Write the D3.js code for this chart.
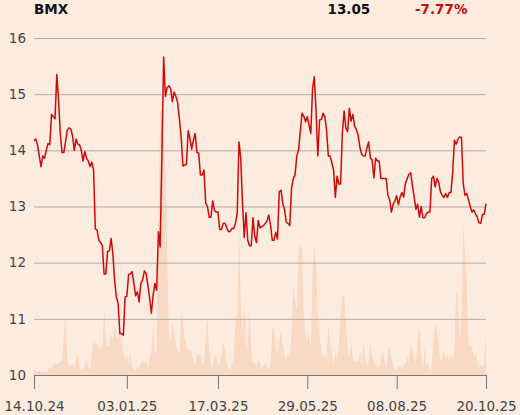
<!DOCTYPE html>
<html><head><meta charset="utf-8">
<script src="https://cdn.jsdelivr.net/npm/d3@7"></script>
<style>
html,body{margin:0;padding:0;background:#fcece0;}
svg{display:block;font-family:"DejaVu Sans",sans-serif;}
</style></head>
<body><div id="chart"></div>
<script>
const ticker = "BMX";
const lastPrice = "13.05";
const changePct = "-7.77%";

const prices = [14.17,14.20,14.10,13.90,13.71,13.90,13.86,14.00,14.12,14.10,14.64,
14.60,14.56,15.35,14.90,14.30,13.96,13.96,14.15,14.36,14.40,
14.38,14.26,14.00,14.20,14.11,14.10,14.00,13.81,13.98,13.86,
13.81,13.71,13.79,13.65,12.60,12.58,12.40,12.36,12.30,11.80,
11.80,12.20,12.21,12.43,12.17,11.69,11.39,11.28,10.74,10.74,
10.71,11.39,11.40,11.79,11.80,11.84,11.63,11.41,11.48,11.30,
11.63,11.69,11.85,11.81,11.60,11.37,11.10,11.42,11.63,11.51,
12.55,12.28,13.89,15.66,14.96,15.12,15.15,15.10,14.87,15.04,
14.96,14.85,14.55,
14.24,13.72,13.74,13.75,14.35,14.21,14.02,14.18,
14.30,13.96,13.95,13.56,13.56,13.65,13.06,13.00,12.81,12.81,
13.10,12.93,12.90,12.90,12.59,12.59,12.70,12.70,12.62,
12.55,12.56,
12.61,12.61,12.70,12.88,14.15,13.86,13.06,12.45,12.89,12.40,
12.30,12.30,12.80,12.47,12.36,12.75,12.62,12.64,12.66,12.70,
12.74,12.85,12.67,12.40,12.40,12.54,12.42,13.26,13.29,13.05,
12.95,12.72,12.70,12.66,13.32,13.50,13.56,13.90,14.00,14.33,
14.66,14.61,14.51,14.60,14.45,14.30,15.10,15.31,14.69,13.90,14.54,
14.55,14.66,14.60,14.36,13.90,13.90,13.78,13.65,13.16,13.54,
13.40,13.40,14.30,14.70,14.40,14.33,14.75,14.52,14.64,14.43,
14.37,14.27,14.06,13.93,13.90,13.90,14.04,14.15,13.86,13.83,
13.51,13.86,13.81,13.81,13.50,13.50,13.50,13.50,13.20,13.12,
12.90,13.04,13.10,13.19,13.03,13.17,13.25,13.17,13.41,
13.50,13.57,13.60,13.37,13.17,
12.95,13.04,12.81,13.00,12.80,12.80,
12.87,12.90,12.90,13.50,13.54,13.35,13.50,
13.43,13.26,13.20,13.16,13.23,13.16,13.25,13.25,13.62,14.18,
14.11,14.20,14.24,14.23,13.41,13.20,13.23,13.12,13.00,12.90,
12.94,12.87,12.81,12.71,12.70,12.86,
12.86,13.05];

// volume (thousands of shares)
const volumes = [4,5,3,4,3,3,4,3,5,8,
6,10,12,11,12,13,14,40,62,15,
10,9,11,8,15,22,8,5,6,10,
16,8,5,20,35,30,32,25,30,25,
67,35,28,30,42,35,50,40,35,50,
35,25,15,20,12,22,8,5,5,7,
7,12,15,12,14,8,18,22,53,20,
25,150,265,265,240,200,118,40,30,52,
45,30,25,20,62,55,35,30,25,25,
22,15,8,22,20,18,12,10,40,57,
25,10,6,20,18,12,8,18,33,25,
12,6,5,12,15,53,60,150,75,38,
72,40,25,68,25,12,13,8,15,12,
6,10,12,8,5,10,45,50,25,20,
35,45,30,20,15,22,18,40,90,75,
65,125,130,125,60,40,35,42,25,100,
132,110,60,40,25,18,20,15,52,32,
22,10,23,15,28,60,78,80,55,25,
18,35,17,13,15,12,25,8,33,17,
10,12,32,18,15,10,7,8,12,25,
15,8,25,27,18,10,5,5,8,10,
5,10,12,18,13,32,25,18,12,35,
47,25,5,30,8,13,3,10,32,52,
45,32,13,18,25,15,20,13,22,12,
25,85,75,35,60,153,120,93,30,30,
28,18,22,13,8,10,7,12,42];

const xTickIndex = [0, 53, 105, 156, 207, 258];
const xTickLabels = ["14.10.24","03.01.25","17.03.25","29.05.25","08.08.25","20.10.25"];
const yTicks = [10, 11, 12, 13, 14, 15, 16];

const W = 520, H = 415;
const L = 34, R = 486, T = 38, B = 375;

const svg = d3.select("#chart").append("svg").attr("width", W).attr("height", H);
svg.append("rect").attr("width", W).attr("height", H).attr("fill", "#fcece0");

const x = d3.scaleLinear().domain([0, prices.length - 1]).range([L, R]);
const y = d3.scaleLinear().domain([10, 16]).range([B, T]);
const v = d3.scaleLinear().domain([0, 337]).range([B, T]);

// volume area
svg.append("path")
  .datum(volumes)
  .attr("fill", "#f8d9c3")
  .attr("d", d3.area().x((d, i) => x(i)).y0(B).y1(d => v(d)));

// y grid + labels
const gy = svg.append("g").attr("transform", `translate(${L},0)`)
  .call(d3.axisLeft(y).tickValues(yTicks).tickSize(-(R - L)).tickPadding(8).tickFormat(d3.format("d")));
gy.select(".domain").remove();
gy.selectAll(".tick line").attr("stroke", "#b2aca6").attr("stroke-width", 1);
gy.selectAll(".tick text").attr("fill", "#444").style("font-size", "13.5px").style("font-family", "DejaVu Sans");

// price line
svg.append("path")
  .datum(prices)
  .attr("fill", "none")
  .attr("stroke", "#cc0a0a")
  .attr("stroke-width", 1.5)
  .attr("stroke-linejoin", "round")
  .attr("d", d3.line().x((d, i) => x(i)).y(d => y(d)));

// x axis
const gx = svg.append("g").attr("transform", `translate(0,${B})`)
  .call(d3.axisBottom(x).tickValues(xTickIndex).tickSize(14).tickPadding(12)
    .tickFormat((d, i) => xTickLabels[i]));
gx.select(".domain").attr("stroke", "#777").attr("stroke-width", 1);
gx.selectAll(".tick line").attr("stroke", "#777");
gx.selectAll(".tick text").attr("fill", "#444").style("font-size", "13.5px").style("font-family", "DejaVu Sans");

// header
svg.append("text").attr("x", 34).attr("y", 14).text(ticker)
  .attr("font-weight", "bold").attr("font-size", "13.5px").attr("fill", "#111");
svg.append("text").attr("x", 327.5).attr("y", 14).text(lastPrice)
  .attr("font-weight", "bold").attr("font-size", "13.5px").attr("fill", "#111");
svg.append("text").attr("x", 415).attr("y", 14).text(changePct)
  .attr("font-weight", "bold").attr("font-size", "13.5px").attr("fill", "#cc0a0a");
</script>
</body></html>
